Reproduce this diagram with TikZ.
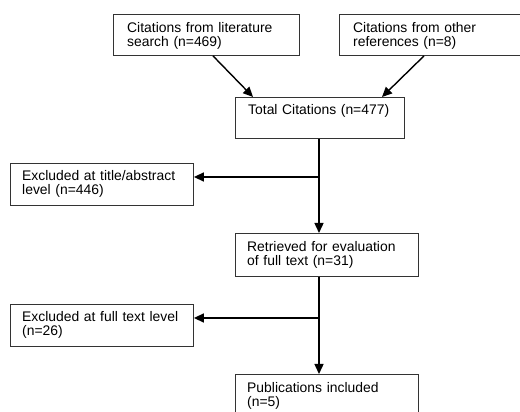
\documentclass[tikz,border=0pt]{standalone}
\usepackage{fontspec}
\setmainfont{Liberation Sans}
\usetikzlibrary{arrows.meta}
\begin{document}
\begin{tikzpicture}[x=1pt,y=1pt,
  box/.style={draw=black!80, line width=0.9pt, anchor=north west, inner sep=0pt, minimum height=41pt},
  txt/.style={anchor=base west, inner sep=0pt, text width=175pt, align=left, font=\fontsize{13.9}{14}\selectfont},
  conn/.style={line width=1.4pt, -{Triangle[length=10pt,width=9pt]}},
  line/.style={line width=1.4pt}]
\useasboundingbox (0,0) rectangle (520,412);
\clip (0,0) rectangle (520,412);
% boxes
\node[box, minimum width=186pt] (b1) at (113,398) {};
\node[box, minimum width=190pt] (b2) at (339,398) {};
\node[box, minimum width=169pt] (tot) at (235,315) {};
\node[box, minimum width=183pt, minimum height=42pt] (e1) at (10,249) {};
\node[box, minimum width=183pt, minimum height=43pt] (ret) at (235,179) {};
\node[box, minimum width=183pt, minimum height=42pt] (e2) at (10,108) {};
\node[box, minimum width=183pt, minimum height=45pt] (pub) at (235,38) {};
% texts
\node[txt] (t1) at ([shift={(14,-19)}]b1.north west) {Citations from literature\\search (n=469)};
\node[txt] (t2) at ([shift={(14,-19)}]b2.north west) {Citations from other\\references (n=8)};
\node[txt] (t3) at ([shift={(13,-18)}]tot.north west) {Total Citations (n=477)};
\node[txt] (t4) at ([shift={(12,-18)}]e1.north west) {Excluded at title/abstract\\level (n=446)};
\node[txt] (t5) at ([shift={(12,-19)}]ret.north west) {Retrieved for evaluation\\of full text (n=31)};
\node[txt] (t6) at ([shift={(12,-18)}]e2.north west) {Excluded at full text level\\(n=26)};
\node[txt] (t7) at ([shift={(12,-19)}]pub.north west) {Publications included\\(n=5)};
% connector points
\coordinate (s1) at ([xshift=100pt]b1.south west);
\coordinate (d1) at ([xshift=18pt]tot.north west);
\coordinate (s2) at ([xshift=85pt]b2.south west);
\coordinate (d2) at ([xshift=147pt]tot.north west);
\coordinate (top) at ([xshift=84pt]tot.south west);
\coordinate (j1) at (top |- 0,235);
\coordinate (j2) at (top |- 0,94);
% connectors
\draw[conn] (s1) -- (d1);
\draw[conn] (s2) -- (d2);
\draw[conn] (top) -- (top |- ret.north);
\draw[conn] (j1) -- (e1.east |- j1);
\draw[line] (top |- ret.south) -- (top |- j2);
\draw[conn] (top |- ret.south) -- (top |- pub.north);
\draw[conn] (j2) -- (e2.east |- j2);
\end{tikzpicture}
\end{document}
